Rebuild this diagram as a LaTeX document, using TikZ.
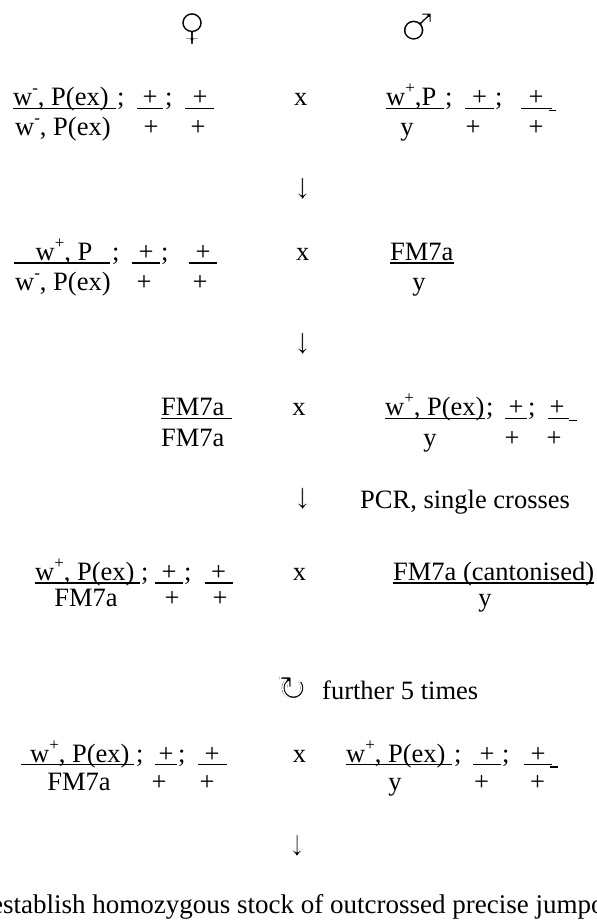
\documentclass[tikz,border=0pt]{standalone}
\usepackage{fontspec}
\setmainfont{Liberation Serif}
\newfontfamily\symfont{DejaVu Sans}
\newcommand\supx[1]{\raisebox{0.42em}{\fontsize{17}{17}\selectfont #1}}
% stroke a glyph in white (erodes a filled copy underneath, making it thinner)
\newcommand\erode[2]{\special{pdf:literal direct q 1 Tr 1 1 1 RG #1 w 1 j}#2\special{pdf:literal direct Q}}
\begin{document}
\begin{tikzpicture}[x=1bp,y=-1bp,
  every node/.style={inner sep=0pt, font=\fontsize{26.6}{30}\selectfont},
  L/.style={anchor=base west},
  C/.style={anchor=base},
  sym/.style={anchor=base, font={\symfont\fontsize{38}{38}\selectfont}, text height=32bp, text depth=0bp},
  arr/.style={anchor=base, font=\fontsize{36}{36}\selectfont, text height=24bp, text depth=0bp},
  loopst/.style={anchor=base, font={\symfont\fontsize{36}{36}\selectfont}, text height=26bp, text depth=0bp},
  fl/.style={line width=1.3bp}]
\useasboundingbox (0,0) rectangle (597,920);
\clip (0,0) rectangle (597,920);
% sex symbols
\node[sym] (fem) at (192,40) {♀};
\node[sym] (femt) at (192,40) {\erode{1.6}{♀}};
\node[sym] (mal) at (417,40) {♂};
\node[sym] (malt) at (417,40) {\erode{1.6}{♂}};
% ---------- row 1
\node[L] (r1a) at (13,105) {w\supx{-}, P(ex)};
\node[L] (r1s1) at (117,105) {;};
\node[C] (r1b) at (150,105) {+};
\node[L] (r1s2) at (165,105) {;};
\node[C] (r1c) at (200,105) {+};
\draw[fl] (13,108.3) -- (116,108.3);
\draw[fl] (137,108.3) -- (163,108.3);
\draw[fl] (185,108.3) -- (214,108.3);
\node[L] (r1d) at (15,135) {w\supx{-}, P(ex)};
\node[C] (r1e) at (151,135) {+};
\node[C] (r1f) at (198,135) {+};
\node[C] (r1x) at (300.8,105) {x};
\node[L] (r1g) at (386,105) {w\supx{+},P};
\node[L] (r1s3) at (445,105) {;};
\node[C] (r1h) at (479.5,105) {+};
\node[L] (r1s4) at (495,105) {;};
\node[C] (r1i) at (536,105) {+};
\draw[fl] (386,108.3) -- (443.5,108.3);
\draw[fl] (465,108.3) -- (494,108.3);
\draw[fl] (521,108.3) -- (552,108.3);
\draw[fl] (549,110.5) -- (556,110.5);
\node[C] (r1j) at (407,135) {y};
\node[C] (r1k) at (473,135) {+};
\node[C] (r1l) at (536,135) {+};
% arrow 1
\node[arr] (ar1) at (302.7,198) {↓};
\node[arr] (ar1t) at (302.7,198) {\erode{0.5}{↓}};
% ---------- row 2
\node[C] (r2a) at (64,260) {w\supx{+}, P};
\node[L] (r2s1) at (112,260) {;};
\node[C] (r2b) at (146,260) {+};
\node[L] (r2s2) at (161,260) {;};
\node[C] (r2c) at (203,260) {+};
\draw[fl] (14,263) -- (110.4,263);
\draw[fl] (132,263) -- (160,263);
\draw[fl] (188.5,263) -- (217,263);
\node[L] (r2d) at (15,290) {w\supx{-}, P(ex)};
\node[C] (r2e) at (144,290) {+};
\node[C] (r2f) at (200,290) {+};
\node[C] (r2x) at (302.7,260) {x};
\node[L] (r2g) at (390,260) {FM7a};
\draw[fl] (390,263) -- (454,263);
\node[C] (r2h) at (419,290) {y};
% arrow 2
\node[arr] (ar2) at (302.7,353) {↓};
\node[arr] (ar2t) at (302.7,353) {\erode{0.5}{↓}};
% ---------- row 3
\node[L] (r3a) at (161,415) {FM7a};
\draw[fl] (161,418.3) -- (231.5,418.3);
\node[L] (r3b) at (161,446) {FM7a};
\node[C] (r3x) at (299,415) {x};
\node[L] (r3c) at (385,415) {w\supx{+}, P(ex)};
\node[L] (r3s1) at (486,415) {;};
\node[C] (r3d) at (516,415) {+};
\node[L] (r3s2) at (528,415) {;};
\node[C] (r3e) at (557,415) {+};
\draw[fl] (385,418.3) -- (485.4,418.3);
\draw[fl] (505,418.3) -- (526.6,418.3);
\draw[fl] (548,418.3) -- (569,418.3);
\draw[fl] (569,420.5) -- (577,420.5);
\node[C] (r3f) at (430,446) {y};
\node[C] (r3g) at (512,446) {+};
\node[C] (r3h) at (554,446) {+};
% arrow 3
\node[arr] (ar3) at (302.7,508) {↓};
\node[arr] (ar3t) at (302.7,508) {\erode{0.5}{↓}};
\node[L] (pcr) at (360,508) {PCR, single crosses};
% ---------- row 4
\node[L] (r4a) at (35,580) {w\supx{+}, P(ex)};
\node[L] (r4s1) at (141,580) {;};
\node[C] (r4b) at (169,580) {+};
\node[L] (r4s2) at (184,580) {;};
\node[C] (r4c) at (218.7,580) {+};
\draw[fl] (35,583) -- (139.7,583);
\draw[fl] (155,583) -- (183,583);
\draw[fl] (204.5,583) -- (233,583);
\node[C] (r4d) at (86,606) {FM7a};
\node[C] (r4e) at (172,606) {+};
\node[C] (r4f) at (220,606) {+};
\node[C] (r4x) at (299.6,580) {x};
\node[L] (r4g) at (393,580) {FM7a (cantonised)};
\draw[fl] (393,583) -- (594,583);
\node[C] (r4h) at (485,606) {y};
% loop
\node[loopst] (loop) at (293,701) {↻};
\node[loopst] (loopt) at (293,701) {\erode{1.5}{↻}};
\node[L] (further) at (322,699) {further 5 times};
% ---------- row 5
\node[L] (r5a) at (30,762) {w\supx{+}, P(ex)};
\node[L] (r5s1) at (136,762) {;};
\node[C] (r5b) at (166,762) {+};
\node[L] (r5s2) at (178,762) {;};
\node[C] (r5c) at (212,762) {+};
\draw[fl] (21,764.5) -- (134,764.5);
\draw[fl] (155,764.5) -- (177,764.5);
\draw[fl] (198,764.5) -- (226.5,764.5);
\node[C] (r5d) at (79,790) {FM7a};
\node[C] (r5e) at (159,790) {+};
\node[C] (r5f) at (207,790) {+};
\node[C] (r5x) at (299.6,762) {x};
\node[L] (r5g) at (346,762) {w\supx{+}, P(ex)};
\node[L] (r5s3) at (454,762) {;};
\node[C] (r5h) at (487,762) {+};
\node[L] (r5s4) at (502,762) {;};
\node[C] (r5i) at (538,762) {+};
\draw[fl] (345.7,764.5) -- (452,764.5);
\draw[fl] (473,764.5) -- (500.7,764.5);
\draw[fl] (523.5,764.5) -- (552,764.5);
\draw[fl] (550,767) -- (558,767);
\node[C] (r5j) at (395,790) {y};
\node[C] (r5k) at (481.6,790) {+};
\node[C] (r5l) at (537.6,790) {+};
% arrow 5
\node[arr] (ar5) at (297,855) {↓};
\node[arr] (ar5t) at (297,855) {\erode{0.5}{↓}};
% final
\node[L, font=\fontsize{27.1}{30}\selectfont] (final) at (-9,913) {establish homozygous stock of outcrossed precise jumpo};
\end{tikzpicture}
\end{document}
